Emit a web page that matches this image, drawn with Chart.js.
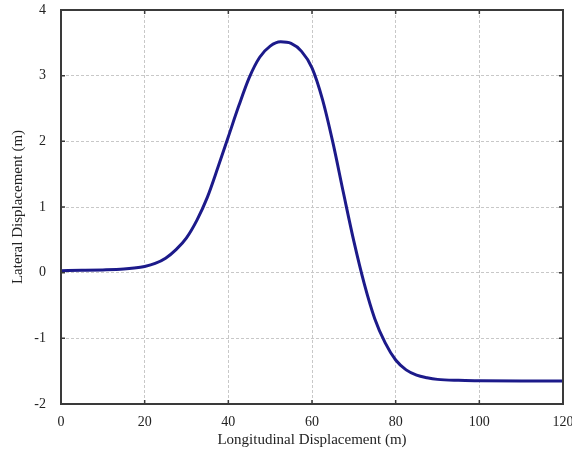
<!DOCTYPE html>
<html>
<head>
<meta charset="utf-8">
<script src="https://cdn.jsdelivr.net/npm/chart.js@4/dist/chart.umd.min.js"></script>
<style>
html,body{margin:0;padding:0;background:#fff;}
#wrap{width:572px;height:452px;}
</style>
</head>
<body>
<div id="wrap"><canvas id="c" width="572" height="452"></canvas></div>
<script>
const xValues = [0, 5, 10, 15, 17.5, 20, 22.5, 25, 27.5, 30, 32.5, 35, 37.5, 40, 42.5, 45, 47.5, 50, 52.5, 55, 57.5, 60, 62.5, 65, 67.5, 70, 72.5, 75, 77.5, 80, 82.5, 85, 87.5, 90, 95, 100, 110, 120];
const yValues = [0.03, 0.035, 0.042, 0.055, 0.07, 0.095, 0.14, 0.22, 0.35, 0.53, 0.8, 1.15, 1.6, 2.07, 2.54, 2.97, 3.28, 3.45, 3.515, 3.49, 3.37, 3.12, 2.64, 1.98, 1.22, 0.48, -0.17, -0.7, -1.07, -1.33, -1.48, -1.56, -1.6, -1.625, -1.64, -1.645, -1.65, -1.65];
const xTicks = [0, 20, 40, 60, 80, 100, 120];
const yTicks = [-2, -1, 0, 1, 2, 3, 4];
const xTitle = 'Longitudinal Displacement (m)';
const yTitle = 'Lateral Displacement (m)';

const points = xValues.map((x, i) => ({x: x, y: yValues[i]}));
const fontFam = "'Liberation Serif', 'DejaVu Serif', serif";

const frameTicks = {
  id: 'frameTicks',
  afterDraw(chart) {
    const ctx = chart.ctx;
    const a = chart.chartArea;
    const xs = chart.scales.x, ys = chart.scales.y;
    ctx.save();
    ctx.strokeStyle = '#3a3a3a';
    ctx.lineWidth = 1.5;
    const L = 4;
    ctx.beginPath();
    xTicks.forEach(v => {
      const px = xs.getPixelForValue(v);
      ctx.moveTo(px, a.bottom); ctx.lineTo(px, a.bottom - L);
      ctx.moveTo(px, a.top); ctx.lineTo(px, a.top + L);
    });
    yTicks.forEach(v => {
      const py = ys.getPixelForValue(v);
      ctx.moveTo(a.left, py); ctx.lineTo(a.left + L, py);
      ctx.moveTo(a.right, py); ctx.lineTo(a.right - L, py);
    });
    ctx.stroke();
    ctx.lineWidth = 2;
    ctx.strokeRect(a.left, a.top, a.right - a.left, a.bottom - a.top);
    ctx.restore();
  }
};

new Chart(document.getElementById('c'), {
  type: 'line',
  data: {
    datasets: [{
      data: points,
      borderColor: '#1c1a8a',
      borderWidth: 3,
      pointRadius: 0,
      fill: false,
      cubicInterpolationMode: 'monotone'
    }]
  },
  options: {
    responsive: false,
    animation: false,
    layout: {padding: {top: 10, right: 9, left: 0, bottom: 0}},
    plugins: {legend: {display: false}, tooltip: {enabled: false}},
    scales: {
      x: {
        type: 'linear',
        min: 0, max: 120,
        afterBuildTicks(s) { s.ticks = xTicks.map(v => ({value: v})); },
        afterFit(s) { s.height = 48; s.paddingLeft = 0; s.paddingRight = 0; },
        border: {display: false, dash: [3, 2]},
        grid: {color: '#c8c8c8', lineWidth: 1, drawTicks: false},
        ticks: {color: '#222', font: {family: fontFam, size: 14}, padding: 10, maxRotation: 0},
        title: {display: true, text: xTitle, color: '#222', font: {family: fontFam, size: 15}, padding: {top: 0, bottom: 3}}
      },
      y: {
        type: 'linear',
        min: -2, max: 4,
        afterBuildTicks(s) { s.ticks = yTicks.map(v => ({value: v})); },
        afterFit(s) { s.width = 61; s.paddingTop = 0; s.paddingBottom = 0; },
        border: {display: false, dash: [3, 2]},
        grid: {color: '#c8c8c8', lineWidth: 1, drawTicks: false},
        ticks: {color: '#222', font: {family: fontFam, size: 14}, padding: 15},
        title: {display: true, text: yTitle, color: '#222', font: {family: fontFam, size: 15}, padding: {top: 9, bottom: 0}}
      }
    }
  },
  plugins: [frameTicks]
});
</script>
</body>
</html>
